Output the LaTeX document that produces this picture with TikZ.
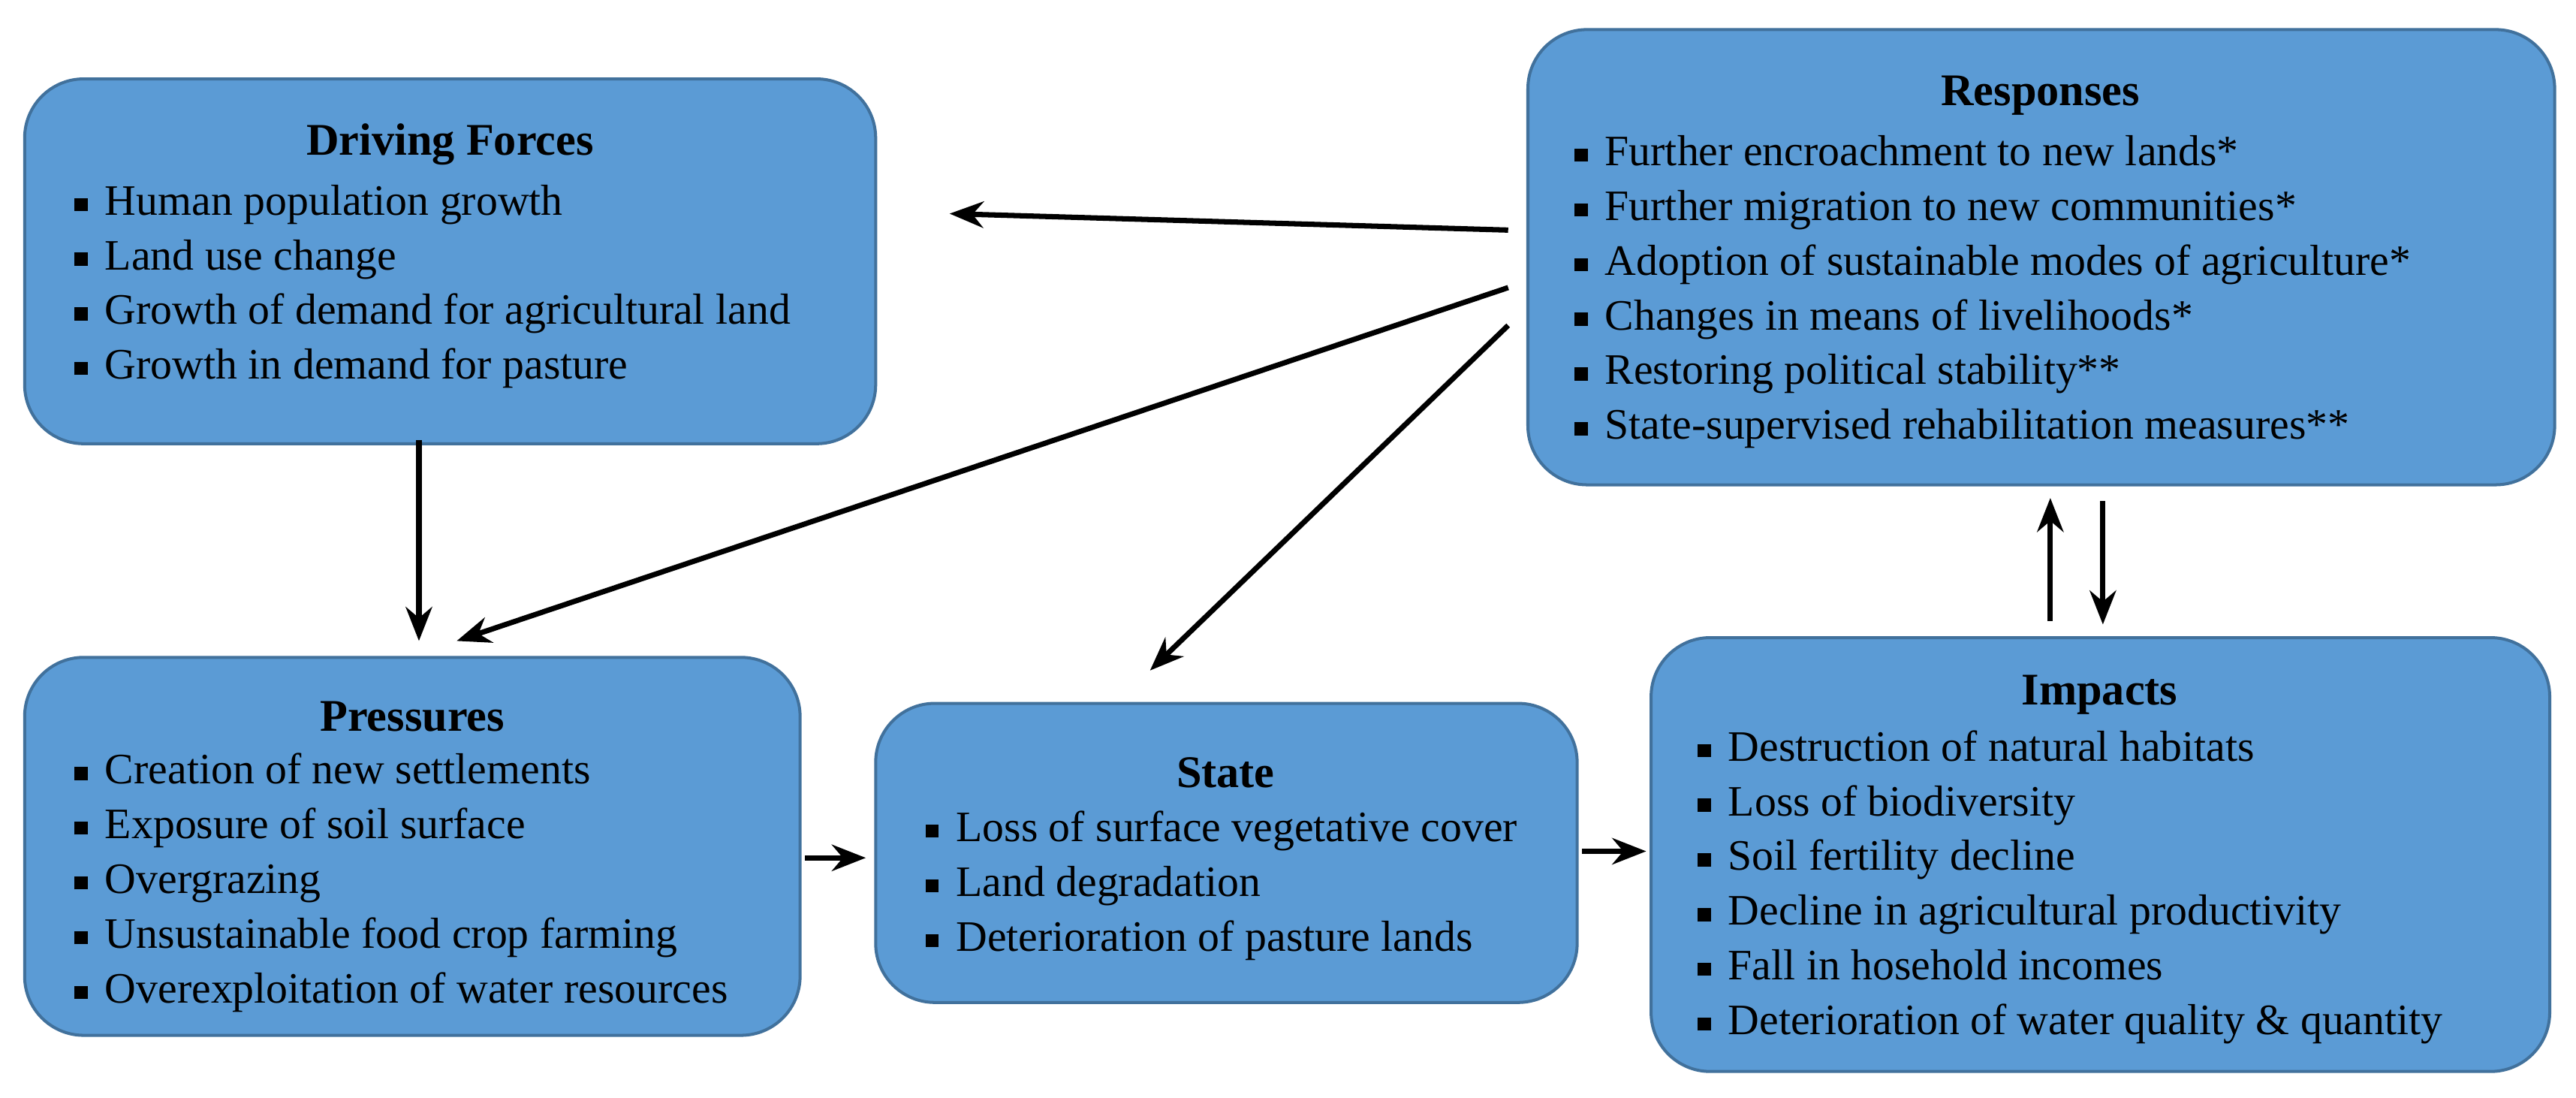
\documentclass[tikz,border=0pt]{standalone}
\usepackage{fontspec}
\setmainfont{Liberation Serif}
\usetikzlibrary{arrows.meta}
\definecolor{boxfill}{HTML}{5B9BD5}
\definecolor{boxline}{HTML}{41719C}
\newcommand{\bt}{\rule[0.2ex]{0.3em}{0.3em}\hspace{0.4em}}
\begin{document}
\begin{tikzpicture}[x=0.0153cm,y=-0.0153cm,
  box/.style={draw=boxline,line width=0.8pt,fill=boxfill,rounded corners=0.55cm},
  ttl/.style={font=\fontsize{12}{14}\selectfont\bfseries,anchor=center},
  lst/.style={font=\fontsize{11.5}{14.5}\selectfont,align=left,anchor=north west,inner sep=0pt},
  arr/.style={-{Stealth[length=9pt,width=7pt]},line width=1.4pt}]
\useasboundingbox (0,0) rectangle (1568,668);
% boxes
\draw[box] (15,48) rectangle (533,270) node[pos=0,name=df]{};
\draw[box] (930,18) rectangle (1555,295);
\draw[box] (15,400) rectangle (487,630);
\draw[box] (533,428) rectangle (960,610);
\draw[box] (1005,388) rectangle (1552,652);
% Driving forces
\node[ttl] (dft) at (274,88) {Driving Forces};
\node[lst] (dfl) at (45,112) {\bt Human population growth\\ \bt Land use change\\ \bt Growth of demand for agricultural land\\ \bt Growth in demand for pasture};
% Responses
\node[ttl] (rt) at (1242,58) {Responses};
\node[lst] (rl) at (958,82) {\bt Further encroachment to new lands*\\ \bt Further migration to new communities*\\ \bt Adoption of sustainable modes of agriculture*\\ \bt Changes in means of livelihoods*\\ \bt Restoring political stability**\\ \bt State-supervised rehabilitation measures**};
% Pressures
\node[ttl] (pt) at (251,436) {Pressures};
\node[lst] (pl) at (45,458) {\bt Creation of new settlements\\ \bt Exposure of soil surface\\ \bt Overgrazing\\ \bt Unsustainable food crop farming\\ \bt Overexploitation of water resources};
% State
\node[ttl] (st) at (746,470) {State};
\node[lst] (sl) at (563,493) {\bt Loss of surface vegetative cover\\ \bt Land degradation\\ \bt Deterioration of pasture lands};
% Impacts
\node[ttl] (it) at (1278,423) {Impacts};
\node[lst] (il) at (1033,444) {\bt Destruction of natural habitats\\ \bt Loss of biodiversity\\ \bt Soil fertility decline\\ \bt Decline in agricultural productivity\\ \bt Fall in hosehold incomes\\ \bt Deterioration of water quality \& quantity};
% arrows
\coordinate (a1) at (918,140); \coordinate (b1) at (578,130);
\coordinate (a2) at (918,175); \coordinate (b2) at (278,390);
\coordinate (a3) at (918,198); \coordinate (b3) at (700,408);
\coordinate (a4) at (255,268); \coordinate (b4) at (255,390);
\coordinate (a5) at (490,522); \coordinate (b5) at (527,522);
\coordinate (a6) at (963,518); \coordinate (b6) at (1002,518);
\coordinate (a7) at (1248,378); \coordinate (b7) at (1248,303);
\coordinate (a8) at (1280,305); \coordinate (b8) at (1280,380);
\foreach \i in {1,...,8} \draw[arr] (a\i) -- (b\i);
\end{tikzpicture}
\end{document}
